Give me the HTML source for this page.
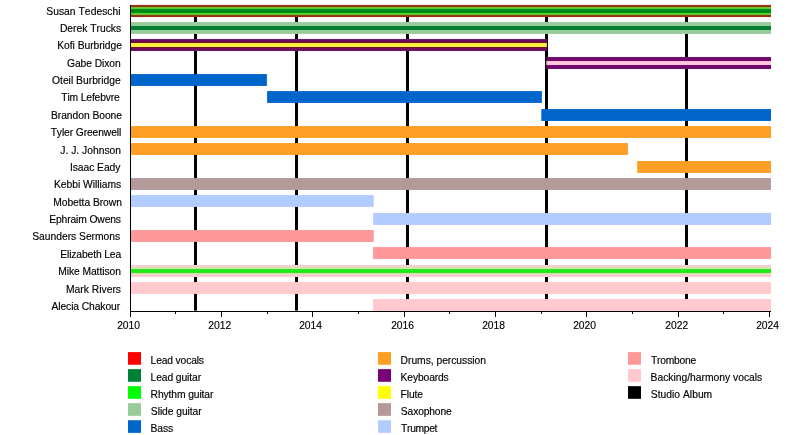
<!DOCTYPE html>
<html lang="en">
<head>
<meta charset="utf-8">
<title>Tedeschi Trucks Band timeline</title>
<style>
html,body{margin:0;padding:0;background:#fff;}
body{width:800px;height:435px;overflow:hidden;}
svg{display:block;}
text{font-family:"Liberation Sans",sans-serif;font-size:10.3px;fill:#000;stroke:#000;stroke-width:0.15px;font-kerning:none;white-space:pre;}
</style>
</head>
<body>
<svg width="800" height="435" viewBox="0 0 800 435">
<rect x="0" y="0" width="800" height="435" fill="#ffffff"/>
<g>
<rect x="131.00" y="4" width="640.00" height="1" fill="#fff0f0"/>
<rect x="131.00" y="17" width="640.00" height="1" fill="#fff2f0"/>
<rect x="131.00" y="21" width="640.00" height="1" fill="#fafffc"/>
<rect x="131.00" y="34" width="640.00" height="1" fill="#f8fffa"/>
<rect x="131.00" y="38" width="415.90" height="1" fill="#fff5ff"/>
<rect x="131.00" y="51" width="415.90" height="1" fill="#fff6ff"/>
<rect x="546.30" y="56" width="224.70" height="1" fill="#fff6ff"/>
<rect x="546.30" y="69" width="224.70" height="1" fill="#fff5ff"/>
<rect x="131.00" y="264" width="640.00" height="1" fill="#fffbfe"/>
<rect x="131.00" y="277" width="640.00" height="1" fill="#fffbfc"/>
</g>
<g fill="#000">
<rect x="194" y="5" width="3" height="305.6"/>
<rect x="295" y="5" width="3" height="305.6"/>
<rect x="406" y="5" width="3" height="305.6"/>
<rect x="545" y="5" width="3" height="305.6"/>
<rect x="685" y="5" width="3" height="305.6"/>
</g>
<g>
<rect x="131.00" y="5" width="640.00" height="1" fill="#a52a12"/>
<rect x="131.00" y="6" width="640.00" height="1" fill="#80400a"/>
<rect x="131.00" y="7" width="640.00" height="1" fill="#7eb92d"/>
<rect x="131.00" y="8" width="640.00" height="1" fill="#45d13c"/>
<rect x="131.00" y="9" width="640.00" height="1" fill="#009109"/>
<rect x="131.00" y="10" width="640.00" height="1" fill="#008722"/>
<rect x="131.00" y="11" width="640.00" height="1" fill="#00841c"/>
<rect x="131.00" y="12" width="640.00" height="1" fill="#009606"/>
<rect x="131.00" y="13" width="640.00" height="1" fill="#43d437"/>
<rect x="131.00" y="14" width="640.00" height="1" fill="#81b42d"/>
<rect x="131.00" y="15" width="640.00" height="1" fill="#80400a"/>
<rect x="131.00" y="16" width="640.00" height="1" fill="#a52a12"/>
<rect x="131.00" y="22" width="640.00" height="1" fill="#a4caa3"/>
<rect x="131.00" y="23" width="640.00" height="1" fill="#9bcb99"/>
<rect x="131.00" y="24" width="640.00" height="1" fill="#9acc9b"/>
<rect x="131.00" y="25" width="640.00" height="1" fill="#8cd29c"/>
<rect x="131.00" y="26" width="640.00" height="1" fill="#0a7835"/>
<rect x="131.00" y="27" width="640.00" height="1" fill="#008134"/>
<rect x="131.00" y="28" width="640.00" height="1" fill="#00812e"/>
<rect x="131.00" y="29" width="640.00" height="1" fill="#0d792d"/>
<rect x="131.00" y="30" width="640.00" height="1" fill="#8ed19a"/>
<rect x="131.00" y="31" width="640.00" height="1" fill="#9cca9b"/>
<rect x="131.00" y="32" width="640.00" height="1" fill="#9aca98"/>
<rect x="131.00" y="33" width="640.00" height="1" fill="#a4cba3"/>
<rect x="131.00" y="39" width="415.90" height="1" fill="#681c64"/>
<rect x="131.00" y="40" width="415.90" height="1" fill="#6f076e"/>
<rect x="131.00" y="41" width="415.90" height="1" fill="#700a50"/>
<rect x="131.00" y="42" width="415.90" height="1" fill="#681f05"/>
<rect x="131.00" y="43" width="415.90" height="1" fill="#ffe16c"/>
<rect x="131.00" y="44" width="415.90" height="1" fill="#fff62a"/>
<rect x="131.00" y="45" width="415.90" height="1" fill="#fff127"/>
<rect x="131.00" y="46" width="415.90" height="1" fill="#ffe472"/>
<rect x="131.00" y="47" width="415.90" height="1" fill="#691b06"/>
<rect x="131.00" y="48" width="415.90" height="1" fill="#780955"/>
<rect x="131.00" y="49" width="415.90" height="1" fill="#70056f"/>
<rect x="131.00" y="50" width="415.90" height="1" fill="#651e62"/>
<rect x="546.30" y="57" width="224.70" height="1" fill="#641c65"/>
<rect x="546.30" y="58" width="224.70" height="1" fill="#700c6d"/>
<rect x="546.30" y="59" width="224.70" height="1" fill="#730568"/>
<rect x="546.30" y="60" width="224.70" height="1" fill="#720b5e"/>
<rect x="546.30" y="61" width="224.70" height="1" fill="#ffbbf2"/>
<rect x="546.30" y="62" width="224.70" height="1" fill="#ffc5d9"/>
<rect x="546.30" y="63" width="224.70" height="1" fill="#ffc9da"/>
<rect x="546.30" y="64" width="224.70" height="1" fill="#ffbeed"/>
<rect x="546.30" y="65" width="224.70" height="1" fill="#6b0d59"/>
<rect x="546.30" y="66" width="224.70" height="1" fill="#73046a"/>
<rect x="546.30" y="67" width="224.70" height="1" fill="#72096f"/>
<rect x="546.30" y="68" width="224.70" height="1" fill="#671868"/>
<rect x="131.00" y="74.05" width="135.90" height="11.90" fill="#0066cc"/>
<rect x="267.10" y="91.05" width="274.80" height="11.90" fill="#0066cc"/>
<rect x="541.30" y="109.05" width="229.70" height="11.90" fill="#0066cc"/>
<rect x="131.00" y="126.05" width="640.00" height="11.90" fill="#ff9e24"/>
<rect x="131.00" y="143.05" width="496.90" height="11.90" fill="#ff9e24"/>
<rect x="637.20" y="161.05" width="133.80" height="11.90" fill="#ff9e24"/>
<rect x="131.00" y="178.05" width="640.00" height="11.90" fill="#b39999"/>
<rect x="131.00" y="195.05" width="242.75" height="11.90" fill="#b3ccff"/>
<rect x="373.10" y="213.05" width="397.90" height="11.90" fill="#b3ccff"/>
<rect x="131.00" y="230.05" width="242.75" height="11.90" fill="#ff9999"/>
<rect x="373.10" y="247.05" width="397.90" height="11.90" fill="#ff9999"/>
<rect x="131.00" y="265" width="640.00" height="1" fill="#efd0d5"/>
<rect x="131.00" y="266" width="640.00" height="1" fill="#f6cecc"/>
<rect x="131.00" y="267" width="640.00" height="1" fill="#e2dcb8"/>
<rect x="131.00" y="268" width="640.00" height="1" fill="#b4fa9a"/>
<rect x="131.00" y="269" width="640.00" height="1" fill="#42d234"/>
<rect x="131.00" y="270" width="640.00" height="1" fill="#1af015"/>
<rect x="131.00" y="271" width="640.00" height="1" fill="#1aee10"/>
<rect x="131.00" y="272" width="640.00" height="1" fill="#46d32f"/>
<rect x="131.00" y="273" width="640.00" height="1" fill="#b7f695"/>
<rect x="131.00" y="274" width="640.00" height="1" fill="#ebd7c4"/>
<rect x="131.00" y="275" width="640.00" height="1" fill="#fbc6d5"/>
<rect x="131.00" y="276" width="640.00" height="1" fill="#f3d2d8"/>
<rect x="131.00" y="282.05" width="640.00" height="11.90" fill="#ffc9cd"/>
<rect x="373.10" y="299.05" width="397.90" height="11.90" fill="#ffc9cd"/>
</g>
<g fill="#000">
<rect x="130" y="5" width="1" height="312"/>
<rect x="130" y="311" width="641" height="1"/>
<rect x="175" y="311" width="1" height="3"/>
<rect x="221" y="311" width="1" height="6"/>
<rect x="267" y="311" width="1" height="3"/>
<rect x="312" y="311" width="1" height="6"/>
<rect x="358" y="311" width="1" height="3"/>
<rect x="404" y="311" width="1" height="6"/>
<rect x="449" y="311" width="1" height="3"/>
<rect x="495" y="311" width="1" height="6"/>
<rect x="541" y="311" width="1" height="3"/>
<rect x="586" y="311" width="1" height="6"/>
<rect x="632" y="311" width="1" height="3"/>
<rect x="678" y="311" width="1" height="6"/>
<rect x="723" y="311" width="1" height="3"/>
<rect x="769" y="311" width="1" height="6"/>
</g>
<g>
<text x="46.25" y="14.60" textLength="74.34" lengthAdjust="spacing">Susan Tedeschi</text>
<text x="59.95" y="31.97" textLength="61.12" lengthAdjust="spacing">Derek Trucks</text>
<text x="57.25" y="49.34" textLength="64.67" lengthAdjust="spacing">Kofi Burbridge</text>
<text x="67.00" y="66.71" textLength="53.64" lengthAdjust="spacing">Gabe Dixon</text>
<text x="52.00" y="84.08" textLength="68.79" lengthAdjust="spacing">Oteil Burbridge</text>
<text x="61.25" y="101.45" textLength="58.59" lengthAdjust="spacing">Tim Lefebvre</text>
<text x="51.00" y="118.82" textLength="70.98" lengthAdjust="spacing">Brandon Boone</text>
<text x="50.70" y="136.19" textLength="70.51" lengthAdjust="spacing">Tyler Greenwell</text>
<text x="60.25" y="153.56" textLength="60.77" lengthAdjust="spacing">J. J. Johnson</text>
<text x="69.95" y="170.93" textLength="50.45" lengthAdjust="spacing">Isaac Eady</text>
<text x="53.95" y="188.30" textLength="67.18" lengthAdjust="spacing">Kebbi Williams</text>
<text x="53.25" y="205.67" textLength="68.62" lengthAdjust="spacing">Mobetta Brown</text>
<text x="49.25" y="223.04" textLength="71.75" lengthAdjust="spacing">Ephraim Owens</text>
<text x="32.25" y="240.41" textLength="87.91" lengthAdjust="spacing">Saunders Sermons</text>
<text x="60.30" y="257.78" textLength="60.86" lengthAdjust="spacing">Elizabeth Lea</text>
<text x="58.25" y="275.15" textLength="62.63" lengthAdjust="spacing">Mike Mattison</text>
<text x="65.95" y="292.52" textLength="55.07" lengthAdjust="spacing">Mark Rivers</text>
<text x="51.50" y="309.89" textLength="68.58" lengthAdjust="spacing">Alecia Chakour</text>
<text x="117.20" y="328.70" textLength="22.67" lengthAdjust="spacing">2010</text>
<text x="208.20" y="328.70" textLength="22.92" lengthAdjust="spacing">2012</text>
<text x="299.20" y="328.70" textLength="22.67" lengthAdjust="spacing">2014</text>
<text x="391.20" y="328.70" textLength="22.67" lengthAdjust="spacing">2016</text>
<text x="482.20" y="328.70" textLength="22.67" lengthAdjust="spacing">2018</text>
<text x="573.20" y="328.70" textLength="22.67" lengthAdjust="spacing">2020</text>
<text x="665.20" y="328.70" textLength="22.92" lengthAdjust="spacing">2022</text>
<text x="756.20" y="328.70" textLength="22.67" lengthAdjust="spacing">2024</text>
<text x="150.60" y="363.65" textLength="53.42" lengthAdjust="spacing">Lead vocals</text>
<text x="150.60" y="380.68" textLength="50.48" lengthAdjust="spacing">Lead guitar</text>
<text x="150.60" y="397.71" textLength="62.81" lengthAdjust="spacing">Rhythm guitar</text>
<text x="150.85" y="414.74" textLength="50.87" lengthAdjust="spacing">Slide guitar</text>
<text x="150.60" y="431.77" textLength="22.46" lengthAdjust="spacing">Bass</text>
<text x="400.60" y="363.65" textLength="85.39" lengthAdjust="spacing">Drums, percussion</text>
<text x="400.60" y="380.68" textLength="48.18" lengthAdjust="spacing">Keyboards</text>
<text x="400.60" y="397.71" textLength="22.36" lengthAdjust="spacing">Flute</text>
<text x="400.85" y="414.74" textLength="50.91" lengthAdjust="spacing">Saxophone</text>
<text x="401.10" y="431.77" textLength="36.29" lengthAdjust="spacing">Trumpet</text>
<text x="651.10" y="363.65" textLength="45.04" lengthAdjust="spacing">Trombone</text>
<text x="650.60" y="380.68" textLength="111.66" lengthAdjust="spacing">Backing/harmony vocals</text>
<text x="650.85" y="397.71" textLength="61.35" lengthAdjust="spacing">Studio Album</text>
</g>
<g>
<rect x="128.00" y="352.10" width="13.00" height="12.65" fill="#ff0000"/>
<rect x="128.00" y="369.13" width="13.00" height="12.65" fill="#008033"/>
<rect x="128.00" y="386.16" width="13.00" height="12.65" fill="#00ff00"/>
<rect x="128.00" y="403.19" width="13.00" height="12.65" fill="#99cc99"/>
<rect x="128.00" y="420.22" width="13.00" height="12.65" fill="#0066cc"/>
<rect x="378.00" y="352.10" width="13.00" height="12.65" fill="#ff9e24"/>
<rect x="378.00" y="369.13" width="13.00" height="12.65" fill="#780078"/>
<rect x="378.00" y="386.16" width="13.00" height="12.65" fill="#ffff00"/>
<rect x="378.00" y="403.19" width="13.00" height="12.65" fill="#b39999"/>
<rect x="378.00" y="420.22" width="13.00" height="12.65" fill="#b3ccff"/>
<rect x="628.00" y="352.10" width="13.00" height="12.65" fill="#ff9999"/>
<rect x="628.00" y="369.13" width="13.00" height="12.65" fill="#ffc9cd"/>
<rect x="628.00" y="386.16" width="13.00" height="12.65" fill="#000000"/>
</g>
</svg>
</body>
</html>
